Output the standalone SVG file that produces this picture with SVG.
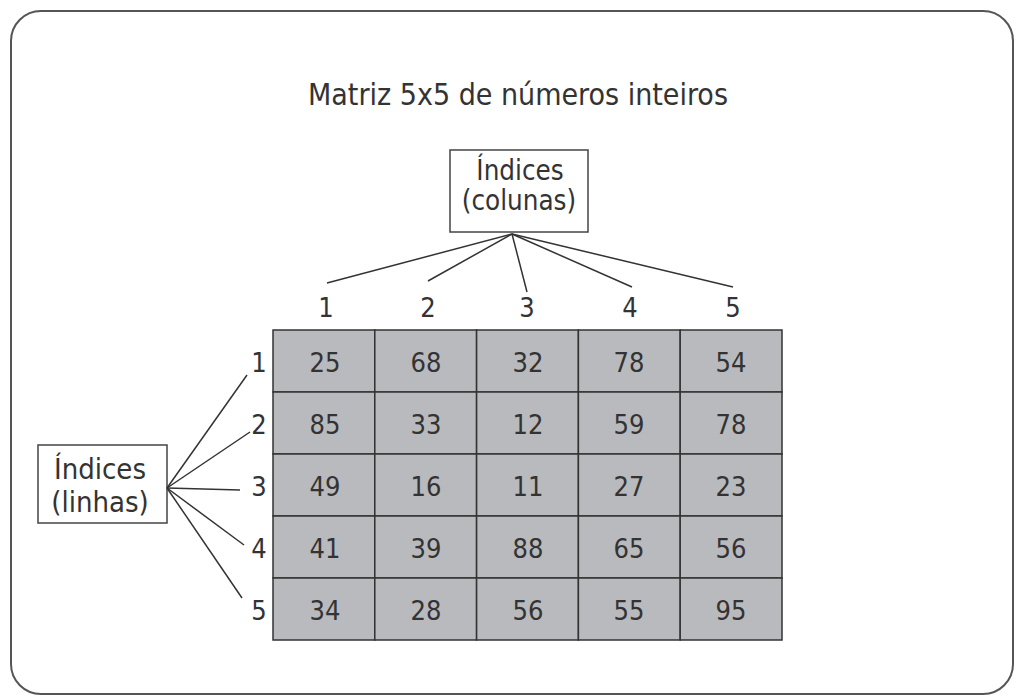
<svg xmlns="http://www.w3.org/2000/svg" width="1024" height="700" viewBox="0 0 1024 700">
<style>
text{font-family:"DejaVu Sans Condensed","DejaVu Sans",Verdana,sans-serif;font-stretch:condensed;fill:#333;font-size:27px;text-anchor:middle}
.t{font-size:30px}
.b{font-size:29px}
.c{font-size:27.5px}
.cell{fill:#b9babe;stroke:#333;stroke-width:1.5}
.box{fill:#fff;stroke:#444;stroke-width:1.5}
.conn line{stroke:#333;stroke-width:1.5}
</style>
<rect x="11" y="11" width="1002" height="683" rx="30" fill="#fff" stroke="#555" stroke-width="2"/>
<text class="t" x="518" y="105">Matriz 5x5 de números inteiros</text>
<g id="idx-col">
<rect class="box" x="450" y="150" width="138" height="82"/>
<text class="c" x="520" y="180">Índices</text>
<text class="c" x="519" y="210">(colunas)</text>
</g>
<g id="idx-lin">
<rect class="box" x="38" y="445" width="129" height="78"/>
<text class="b" x="100" y="479">Índices</text>
<text class="b" x="100" y="512">(linhas)</text>
</g>
<g class="conn" id="connectors">
<line x1="512" y1="234" x2="327" y2="283"/>
<line x1="512" y1="234" x2="428" y2="281"/>
<line x1="512" y1="234" x2="527" y2="292"/>
<line x1="512" y1="234" x2="632" y2="287"/>
<line x1="512" y1="234" x2="733" y2="287"/>
<line x1="167" y1="488" x2="247" y2="375"/>
<line x1="167" y1="488" x2="250" y2="432"/>
<line x1="167" y1="488" x2="240" y2="490"/>
<line x1="167" y1="488" x2="244" y2="545"/>
<line x1="167" y1="488" x2="242" y2="598"/>
</g>
<g id="col-labels">
<text x="326" y="317">1</text><text x="428" y="317">2</text><text x="527" y="317">3</text><text x="630" y="317">4</text><text x="733" y="317">5</text>
</g>
<g id="row-labels">
<text x="259" y="372">1</text><text x="259" y="434">2</text><text x="259" y="496">3</text><text x="259" y="558">4</text><text x="259" y="620">5</text>
</g>
<g id="matrix">
<rect class="cell" x="273" y="330" width="101.8" height="62"/><rect class="cell" x="374.8" y="330" width="101.8" height="62"/><rect class="cell" x="476.6" y="330" width="101.8" height="62"/><rect class="cell" x="578.4" y="330" width="101.8" height="62"/><rect class="cell" x="680.2" y="330" width="101.8" height="62"/>
<rect class="cell" x="273" y="392" width="101.8" height="62"/><rect class="cell" x="374.8" y="392" width="101.8" height="62"/><rect class="cell" x="476.6" y="392" width="101.8" height="62"/><rect class="cell" x="578.4" y="392" width="101.8" height="62"/><rect class="cell" x="680.2" y="392" width="101.8" height="62"/>
<rect class="cell" x="273" y="454" width="101.8" height="62"/><rect class="cell" x="374.8" y="454" width="101.8" height="62"/><rect class="cell" x="476.6" y="454" width="101.8" height="62"/><rect class="cell" x="578.4" y="454" width="101.8" height="62"/><rect class="cell" x="680.2" y="454" width="101.8" height="62"/>
<rect class="cell" x="273" y="516" width="101.8" height="62"/><rect class="cell" x="374.8" y="516" width="101.8" height="62"/><rect class="cell" x="476.6" y="516" width="101.8" height="62"/><rect class="cell" x="578.4" y="516" width="101.8" height="62"/><rect class="cell" x="680.2" y="516" width="101.8" height="62"/>
<rect class="cell" x="273" y="578" width="101.8" height="62"/><rect class="cell" x="374.8" y="578" width="101.8" height="62"/><rect class="cell" x="476.6" y="578" width="101.8" height="62"/><rect class="cell" x="578.4" y="578" width="101.8" height="62"/><rect class="cell" x="680.2" y="578" width="101.8" height="62"/>
<text x="325" y="372">25</text><text x="426" y="372">68</text><text x="528" y="372">32</text><text x="629" y="372">78</text><text x="731" y="372">54</text>
<text x="325" y="434">85</text><text x="426" y="434">33</text><text x="528" y="434">12</text><text x="629" y="434">59</text><text x="731" y="434">78</text>
<text x="325" y="496">49</text><text x="426" y="496">16</text><text x="528" y="496">11</text><text x="629" y="496">27</text><text x="731" y="496">23</text>
<text x="325" y="558">41</text><text x="426" y="558">39</text><text x="528" y="558">88</text><text x="629" y="558">65</text><text x="731" y="558">56</text>
<text x="325" y="620">34</text><text x="426" y="620">28</text><text x="528" y="620">56</text><text x="629" y="620">55</text><text x="731" y="620">95</text>
</g>
</svg>
